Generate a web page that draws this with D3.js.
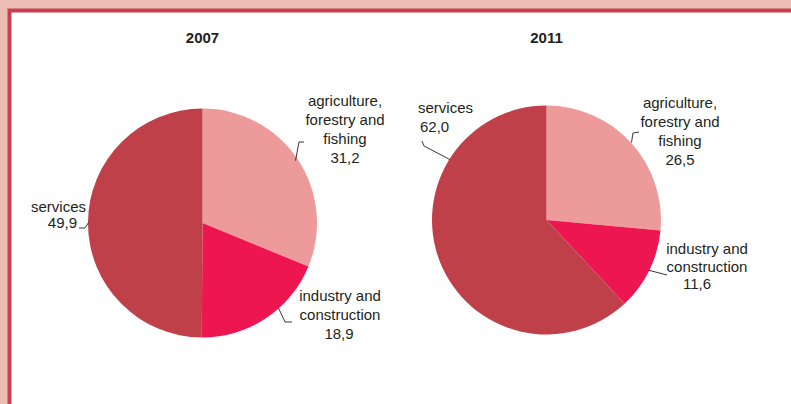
<!DOCTYPE html>
<html>
<head>
<meta charset="utf-8">
<script src="https://cdn.jsdelivr.net/npm/d3@7"></script>
<style>
  html, body { margin: 0; padding: 0; background: #EBBDB5; }
  svg { display: block; }
  text { font-family: "Liberation Sans", Arial, sans-serif; fill: #231F20; }
</style>
</head>
<body>
<svg id="chart" width="791" height="404"></svg>
<script>
// ---- data ----
const categories = ["agriculture, forestry and fishing", "industry and construction", "services"];
const years = ["2007", "2011"];
const values2007 = [31.2, 18.9, 49.9];
const values2011 = [26.5, 11.6, 62.0];
const valueLabels2007 = ["31,2", "18,9", "49,9"];
const valueLabels2011 = ["26,5", "11,6", "62,0"];
const labelLines = [["agriculture,", "forestry and", "fishing"], ["industry and", "construction"], ["services"]];

// ---- styles / layout ----
const colors = ["#EC9A9A", "#EE1651", "#C0404A"];
const W = 791, H = 404;
const svg = d3.select("#chart");

// frame
svg.append("rect").attr("x", 0).attr("y", 0).attr("width", W).attr("height", H).attr("fill", "#EBBDB5");
svg.append("rect").attr("x", 7.5).attr("y", 8.5).attr("width", W).attr("height", H).attr("fill", "#C8414E");
svg.append("rect").attr("x", 11.5).attr("y", 12.5).attr("width", W).attr("height", H).attr("fill", "#FFFFFF");

const R = 114.5;
const pies = [
  { year: years[0], values: values2007, vlabels: valueLabels2007, cx: 202.5, cy: 223,
    labels: [
      { frac: 0.5, r: 112, pts: [[299, 142], [304, 142]], anchor: "middle", lines: [[345, 106], [345, 125], [345, 144]], value: [345, 163] },
      { frac: 0.38, r: 114, pts: [[285, 322], [292, 322]], anchor: "middle", lines: [[340, 301], [340, 320]], value: [339, 339] },
      { frac: 0.5, r: 114, pts: [[85, 228], [79, 228]], anchor: "end", lines: [[86, 212]], value: [77, 228] }
    ] },
  { year: years[1], values: values2011, vlabels: valueLabels2011, cx: 546.5, cy: 220,
    labels: [
      { frac: 0.5, r: 115, pts: [[633, 133], [639, 132]], anchor: "middle", lines: [[680, 108], [680, 127], [680, 146]], value: [680, 165] },
      { frac: 0.5, r: 114, pts: [[667, 275]], anchor: "middle", lines: [[707, 254], [707, 272]], value: [697, 289] },
      { frac: 0.74, r: 114, pts: [[424, 146], [422, 141]], anchor: "start", lines: [[418, 113]], value: [420, 132] }
    ] }
];

const pieGen = d3.pie().sort(null).startAngle(0).endAngle(2 * Math.PI);
const arcGen = d3.arc().innerRadius(0).outerRadius(R);

pies.forEach(p => {
  const g = svg.append("g").attr("transform", `translate(${p.cx},${p.cy})`);
  const arcs = pieGen(p.values);
  g.selectAll("path.slice").data(arcs).join("path")
    .attr("class", "slice")
    .attr("d", arcGen)
    .attr("fill", (d, i) => colors[i]);

  // title
  svg.append("text").attr("x", p.cx).attr("y", 43).attr("text-anchor", "middle")
    .attr("font-size", 15).attr("font-weight", "bold").text(p.year);

  // labels & leaders
  arcs.forEach((a, i) => {
    const L = p.labels[i];
    const ang = a.startAngle + (a.endAngle - a.startAngle) * L.frac;
    const sx = p.cx + Math.sin(ang) * L.r, sy = p.cy - Math.cos(ang) * L.r;
    const pts = [[sx, sy]].concat(L.pts);
    svg.append("path").attr("d", d3.line()(pts))
      .attr("fill", "none").attr("stroke", "#231F20").attr("stroke-width", 0.9);
    labelLines[i].forEach((t, k) => {
      svg.append("text").attr("x", L.lines[k][0]).attr("y", L.lines[k][1])
        .attr("text-anchor", L.anchor).attr("font-size", 15).text(t);
    });
    svg.append("text").attr("x", L.value[0]).attr("y", L.value[1])
      .attr("text-anchor", L.anchor).attr("font-size", 15).text(p.vlabels[i]);
  });
});
</script>
</body>
</html>
